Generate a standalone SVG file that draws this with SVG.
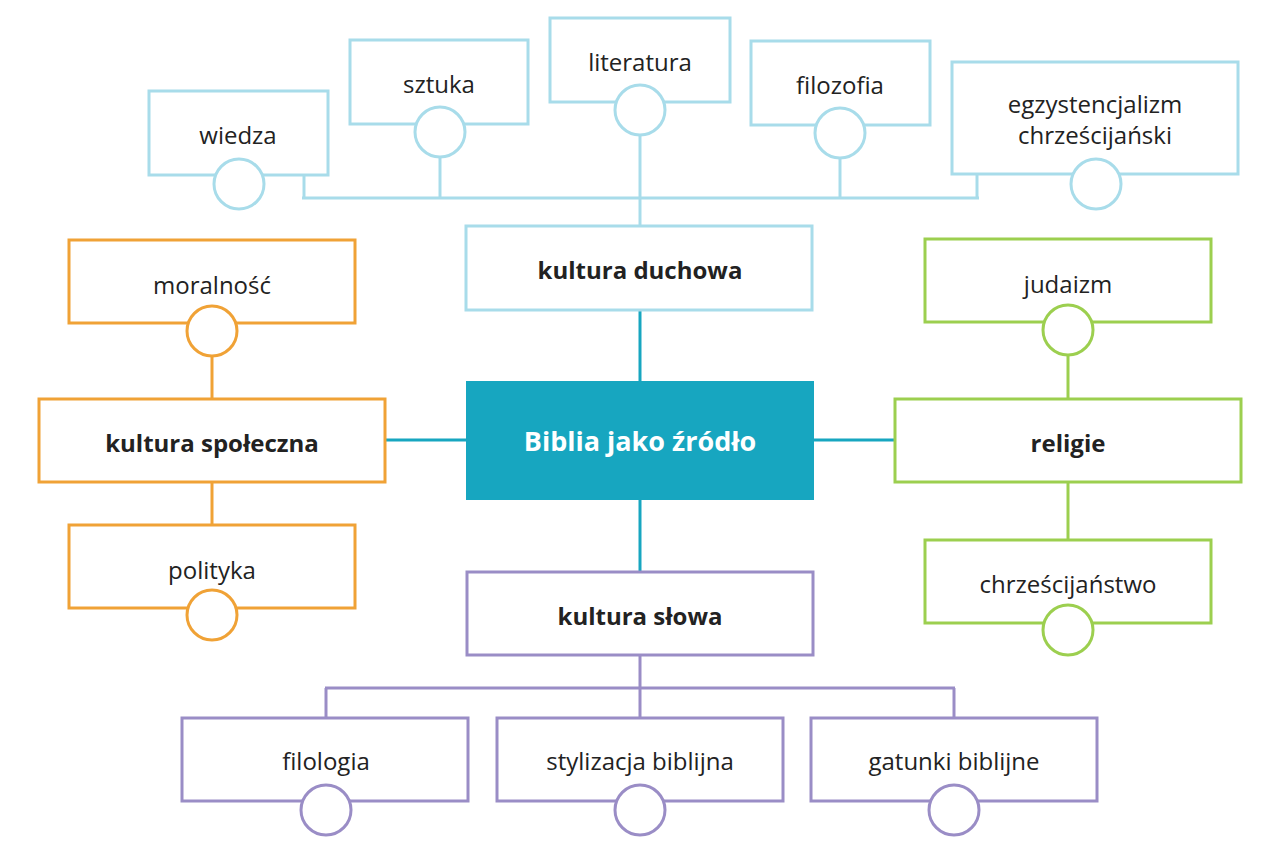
<svg xmlns="http://www.w3.org/2000/svg" width="1280" height="853" viewBox="0 0 1280 853">
<style>
text{font-family:"Open Sans","Noto Sans",sans-serif;font-size:24px;fill:#222;text-anchor:middle;dominant-baseline:central}
.b{font-weight:bold}
rect,circle{fill:#fff;stroke-width:3}
line{stroke-width:3}
.bl{stroke:#a8dcea}.or{stroke:#f0a236}.gr{stroke:#9ccf4f}.pu{stroke:#9a8dc6}.te{stroke:#17a6c0}
</style>
<rect width="1280" height="853" fill="#fff" stroke="none"/>
<g id="connectors">
<g class="bl"><line x1="304" y1="175" x2="304" y2="198"/><line x1="440" y1="157" x2="440" y2="198"/><line x1="640" y1="135" x2="640" y2="226"/><line x1="840" y1="158" x2="840" y2="198"/><line x1="977" y1="174" x2="977" y2="198"/><line x1="302" y1="198" x2="979" y2="198"/></g>
<g class="te"><line x1="640" y1="310" x2="640" y2="381"/><line x1="640" y1="500" x2="640" y2="572"/><line x1="385" y1="440" x2="466" y2="440"/><line x1="814" y1="440" x2="895" y2="440"/></g>
<g class="or"><line x1="212" y1="356" x2="212" y2="399"/><line x1="212" y1="482" x2="212" y2="525"/></g>
<g class="gr"><line x1="1068" y1="355" x2="1068" y2="399"/><line x1="1068" y1="482" x2="1068" y2="540"/></g>
<g class="pu"><line x1="640" y1="655" x2="640" y2="718"/><line x1="325" y1="688" x2="955" y2="688"/><line x1="326" y1="688" x2="326" y2="718"/><line x1="954" y1="688" x2="954" y2="718"/></g>
</g>
<g id="center"><rect x="466" y="381" width="348" height="119" fill="#17a6c0" style="fill:#17a6c0;stroke:none"/><text x="640" y="440" class="b" style="fill:#fff;font-size:27px">Biblia jako źródło</text></g>
<g id="wiedza"><rect class="bl" x="149" y="91" width="179" height="84"/><circle class="bl" cx="239" cy="184" r="25"/><text x="238" y="134">wiedza</text></g>
<g id="sztuka"><rect class="bl" x="350" y="40" width="178" height="84"/><circle class="bl" cx="440" cy="132" r="25"/><text x="439" y="83">sztuka</text></g>
<g id="literatura"><rect class="bl" x="550" y="18" width="180" height="84"/><circle class="bl" cx="640" cy="110" r="25"/><text x="640" y="61">literatura</text></g>
<g id="filozofia"><rect class="bl" x="751" y="41" width="179" height="84"/><circle class="bl" cx="840" cy="133" r="25"/><text x="840" y="84">filozofia</text></g>
<g id="egzystencjalizm"><rect class="bl" x="952" y="62" width="286" height="112"/><circle class="bl" cx="1096" cy="184" r="25"/><text x="1095" y="103">egzystencjalizm</text><text x="1095" y="134">chrześcijański</text></g>
<g id="kultura-duchowa"><rect class="bl" x="466" y="226" width="346" height="84"/><text x="640" y="269" class="b">kultura duchowa</text></g>
<g id="moralnosc"><rect class="or" x="69" y="240" width="286" height="83"/><circle class="or" cx="212" cy="331" r="25"/><text x="212" y="284">moralność</text></g>
<g id="kultura-spoleczna"><rect class="or" x="39" y="399" width="346" height="83"/><text x="212" y="442" class="b">kultura społeczna</text></g>
<g id="polityka"><rect class="or" x="69" y="525" width="286" height="83"/><circle class="or" cx="212" cy="615" r="25"/><text x="212" y="569">polityka</text></g>
<g id="judaizm"><rect class="gr" x="925" y="239" width="286" height="83"/><circle class="gr" cx="1068" cy="330" r="25"/><text x="1068" y="283">judaizm</text></g>
<g id="religie"><rect class="gr" x="895" y="399" width="346" height="83"/><text x="1068" y="442" class="b">religie</text></g>
<g id="chrzescijanstwo"><rect class="gr" x="925" y="540" width="286" height="83"/><circle class="gr" cx="1068" cy="630" r="25"/><text x="1068" y="583">chrześcijaństwo</text></g>
<g id="kultura-slowa"><rect class="pu" x="467" y="572" width="346" height="83"/><text x="640" y="615" class="b">kultura słowa</text></g>
<g id="filologia"><rect class="pu" x="182" y="718" width="286" height="83"/><circle class="pu" cx="326" cy="810" r="25"/><text x="326" y="760">filologia</text></g>
<g id="stylizacja"><rect class="pu" x="497" y="718" width="286" height="83"/><circle class="pu" cx="640" cy="810" r="25"/><text x="640" y="760">stylizacja biblijna</text></g>
<g id="gatunki"><rect class="pu" x="811" y="718" width="286" height="83"/><circle class="pu" cx="954" cy="810" r="25"/><text x="954" y="760">gatunki biblijne</text></g>
</svg>
